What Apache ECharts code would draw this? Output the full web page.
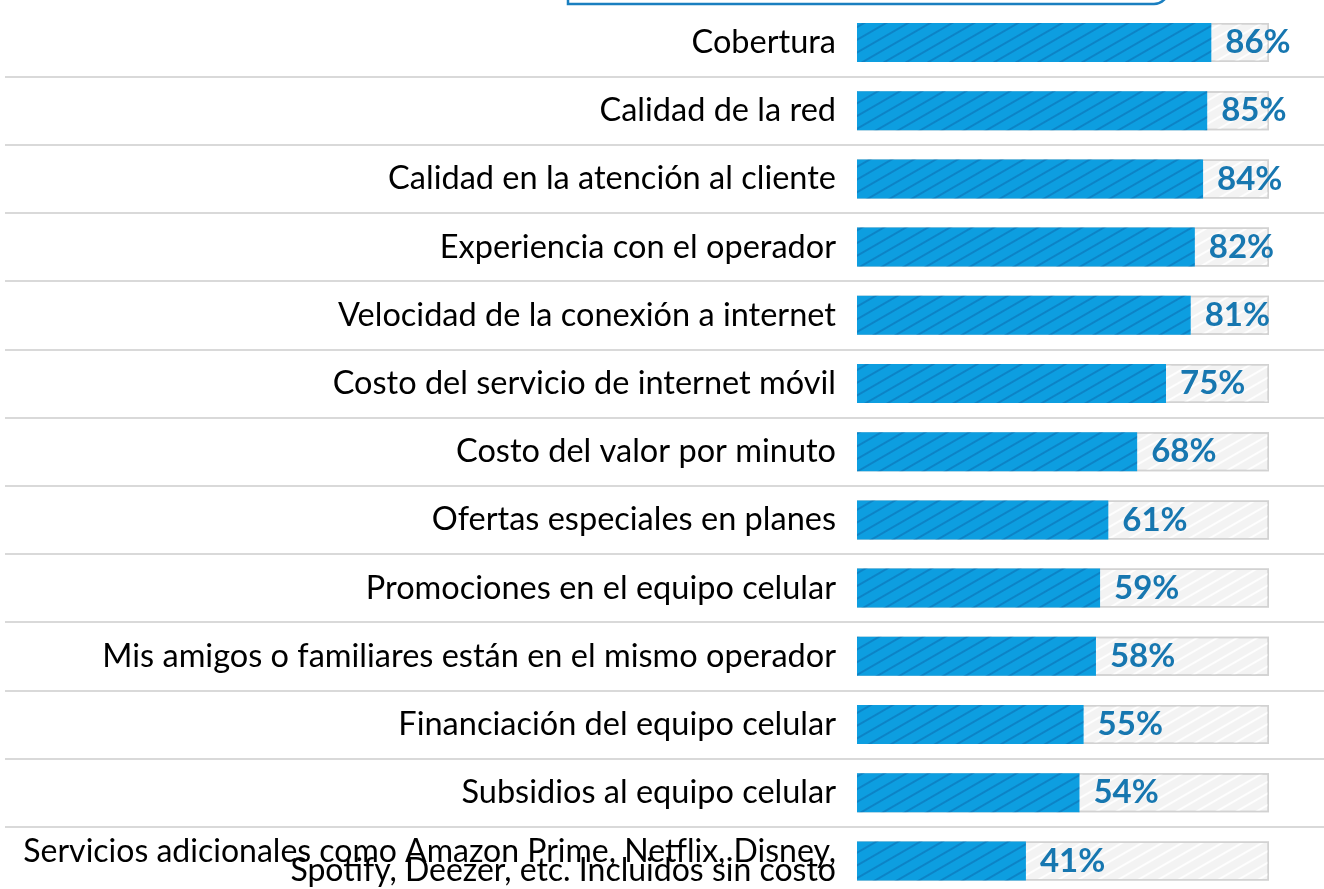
<!DOCTYPE html>
<html>
<head>
<meta charset="utf-8">
<script src="https://cdn.jsdelivr.net/npm/echarts@6/dist/echarts.min.js"></script>
<style>
  html, body { margin: 0; padding: 0; background: #fff; }
  #chart { width: 1324px; height: 889px; }
</style>
</head>
<body>
<div id="chart"></div>
<script>
const categories = [
    'Cobertura',
    'Calidad de la red',
    'Calidad en la atención al cliente',
    'Experiencia con el operador',
    'Velocidad de la conexión a internet',
    'Costo del servicio de internet móvil',
    'Costo del valor por minuto',
    'Ofertas especiales en planes',
    'Promociones en el equipo celular',
    'Mis amigos o familiares están en el mismo operador',
    'Financiación del equipo celular',
    'Subsidios al equipo celular',
    'Servicios adicionales como Amazon Prime, Netflix, Disney,\nSpotify, Deezer, etc. Incluidos sin costo'
];
const values = [86, 85, 84, 82, 81, 75, 68, 61, 59, 58, 55, 54, 41];
const fullScale = categories.map(() => 100);

const chart = echarts.init(document.getElementById('chart'), null, {renderer: 'canvas'});

const gridTop = 8.4;
const gridHeight = 886.6;

chart.setOption({
    animation: false,
    graphic: [{
        type: 'rect',
        shape: {x: 568, y: -60, width: 600, height: 64, r: [0, 14, 14, 0]},
        style: {fill: 'none', stroke: '#1a7fc0', lineWidth: 2.5}
    }],
    grid: [
        // full width grid only for row separators
        {left: 5, right: 0, top: gridTop, height: gridHeight, outerBoundsMode: 'none'},
        {left: 857, width: 412, top: gridTop, height: gridHeight, outerBoundsMode: 'none'}
    ],
    xAxis: [
        {gridIndex: 0, type: 'value', min: 0, max: 100, show: false},
        {gridIndex: 1, type: 'value', min: 0, max: 100, show: false}
    ],
    yAxis: [
        {
            gridIndex: 0, type: 'category', data: categories, inverse: true,
            axisLine: {show: false}, axisTick: {show: false}, axisLabel: {show: false},
            splitLine: {
                show: true,
                interval: (i) => i !== 0,
                lineStyle: {color: '#d9d9d9', width: 2}
            }
        },
        {
            gridIndex: 1, type: 'category', data: categories, inverse: true,
            axisLine: {show: false}, axisTick: {show: false},
            axisLabel: {
                margin: 21,
                color: '#000',
                fontFamily: 'Lato',
                fontSize: 32.5,
                align: 'right',
                formatter: (v) => v.indexOf('\n') >= 0
                    ? v.split('\n').map(s => '{two|' + s + '}').join('\n')
                    : v,
                rich: {
                    two: {fontFamily: 'Lato', fontSize: 32, lineHeight: 19, color: '#000', align: 'right'}
                }
            }
        }
    ],
    series: [
        {
            name: 'base',
            type: 'bar',
            xAxisIndex: 1, yAxisIndex: 1,
            data: fullScale,
            barWidth: 39,
            barGap: '-100%',
            silent: true,
            itemStyle: {
                color: '#f3f3f3',
                borderColor: '#d2d2d2',
                borderWidth: 1.5,
                decal: {
                    symbol: 'rect', symbolSize: 1,
                    color: 'rgba(255,255,255,0.9)',
                    dashArrayX: [1, 0],
                    dashArrayY: [2, 8],
                    rotation: -Math.PI / 6
                }
            }
        },
        {
            name: 'value',
            type: 'bar',
            xAxisIndex: 1, yAxisIndex: 1,
            data: values,
            barWidth: 39,
            itemStyle: {
                color: '#0d9ee0',
                decal: {
                    symbol: 'rect', symbolSize: 1,
                    color: 'rgba(10,70,140,0.3)',
                    dashArrayX: [1, 0],
                    dashArrayY: [1.5, 8.5],
                    rotation: -Math.PI / 6
                }
            },
            label: {
                show: true,
                position: 'right',
                distance: 14,
                formatter: '{c}%',
                color: '#1777b0',
                fontFamily: 'Lato',
                fontWeight: 'bold',
                fontSize: 33
            }
        }
    ]
});
</script>
</body>
</html>
